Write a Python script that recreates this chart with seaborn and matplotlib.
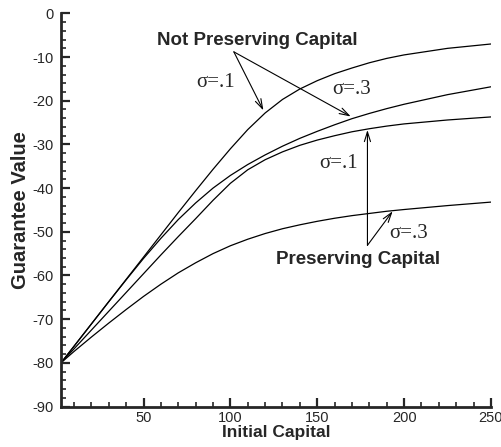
import matplotlib
matplotlib.use("Agg")
import matplotlib.pyplot as plt
from matplotlib.ticker import MultipleLocator
import pandas as pd
import seaborn as sns

# Initial capital grid and guarantee values for each strategy / volatility
capital = [2.5, 10, 20, 30, 40, 50, 60, 70, 80, 90, 100, 110, 120, 130, 140, 150,
           160, 170, 180, 190, 200, 225, 250]
not_pres_s1 = [-80, -76.2, -71.1, -66.0, -60.9, -55.8, -50.7, -45.6, -40.6, -35.7, -31.0,
               -26.6, -22.8, -19.7, -17.3, -15.4, -13.8, -12.5, -11.3, -10.3, -9.5, -8.0, -7.0]
not_pres_s3 = [-80, -76.2, -71.1, -66.0, -61.0, -56.1, -51.5, -47.2, -43.4, -40.0, -37.1,
               -34.6, -32.4, -30.4, -28.6, -27.0, -25.5, -24.1, -22.9, -21.8, -20.8, -18.6, -16.8]
pres_s1 = [-80, -76.8, -72.5, -68.2, -63.9, -59.6, -55.3, -51.1, -47.0, -42.8, -38.9,
           -35.8, -33.5, -31.7, -30.2, -29.0, -28.0, -27.1, -26.4, -25.8, -25.3, -24.4, -23.7]
pres_s3 = [-80, -77.4, -74.1, -70.9, -67.8, -64.8, -62.0, -59.4, -57.1, -55.0, -53.2,
           -51.7, -50.4, -49.3, -48.4, -47.6, -46.9, -46.3, -45.8, -45.3, -44.9, -44.0, -43.2]

series = {
    "Not Preserving, s=.1": not_pres_s1,
    "Not Preserving, s=.3": not_pres_s3,
    "Preserving, s=.1": pres_s1,
    "Preserving, s=.3": pres_s3,
}
df = pd.concat(
    [pd.DataFrame({"capital": capital, "value": v, "curve": k}) for k, v in series.items()],
    ignore_index=True,
)

sns.set_style("ticks")
plt.rcParams["font.family"] = ["Liberation Sans", "DejaVu Sans"]
plt.rcParams["axes.unicode_minus"] = False

fig = plt.figure(figsize=(5.02, 4.47), dpi=100)
ax = fig.add_axes([0.1215, 0.0906, 0.8565, 0.8794])

sns.lineplot(data=df, x="capital", y="value", hue="curve",
             palette=["black"] * 4, linewidth=0.9, legend=False, ax=ax)

ax.set_xlim(2.5, 250)
ax.set_ylim(-90, 0)
ax.xaxis.set_major_locator(MultipleLocator(50))
ax.xaxis.set_minor_locator(MultipleLocator(10))
ax.yaxis.set_major_locator(MultipleLocator(10))
ax.yaxis.set_minor_locator(MultipleLocator(2))

for side in ("top", "right"):
    ax.spines[side].set_visible(False)
for side in ("left", "bottom"):
    ax.spines[side].set_linewidth(2.0)
ax.tick_params(which="major", direction="in", length=6.5, width=1.6, labelsize=10.5)
ax.tick_params(axis="y", which="major", pad=5)
ax.tick_params(axis="x", which="major", pad=3)
ax.tick_params(which="minor", direction="in", length=3.5, width=1.2)

ax.set_xlabel("Initial Capital", fontsize=12.5, fontweight="bold", labelpad=0)
ax.set_ylabel("Guarantee Value", fontsize=14.5, fontweight="bold", labelpad=2)

arrow = dict(arrowstyle="->,head_length=0.7,head_width=0.22", lw=0.8, color="black",
             shrinkA=0, shrinkB=0)
bold = dict(fontsize=13.5, fontweight="bold", ha="center", va="center")
serif = dict(fontsize=15, family=["Liberation Serif", "DejaVu Serif"], ha="center", va="center")

# Not preserving capital
ax.text(115.7, -6.1, "Not Preserving Capital", **bold)
ax.annotate("", xy=(119, -22.2), xytext=(102, -8.8), arrowprops=arrow)
ax.annotate("", xy=(169.3, -23.6), xytext=(102, -8.8), arrowprops=arrow)
ax.text(91.5, -15.9, "σ=.1", **serif)
ax.text(169.7, -17.4, "σ=.3", **serif)

# Preserving capital
ax.text(173.6, -56.4, "Preserving Capital", **bold)
ax.annotate("", xy=(178.9, -26.7), xytext=(178.9, -53.1), arrowprops=arrow)
ax.annotate("", xy=(193.4, -45.3), xytext=(178.9, -53.1), arrowprops=arrow)
ax.text(162.1, -34.4, "σ=.1", **serif)
ax.text(202.7, -50.4, "σ=.3", **serif)

fig.savefig("out.png", dpi=100)
